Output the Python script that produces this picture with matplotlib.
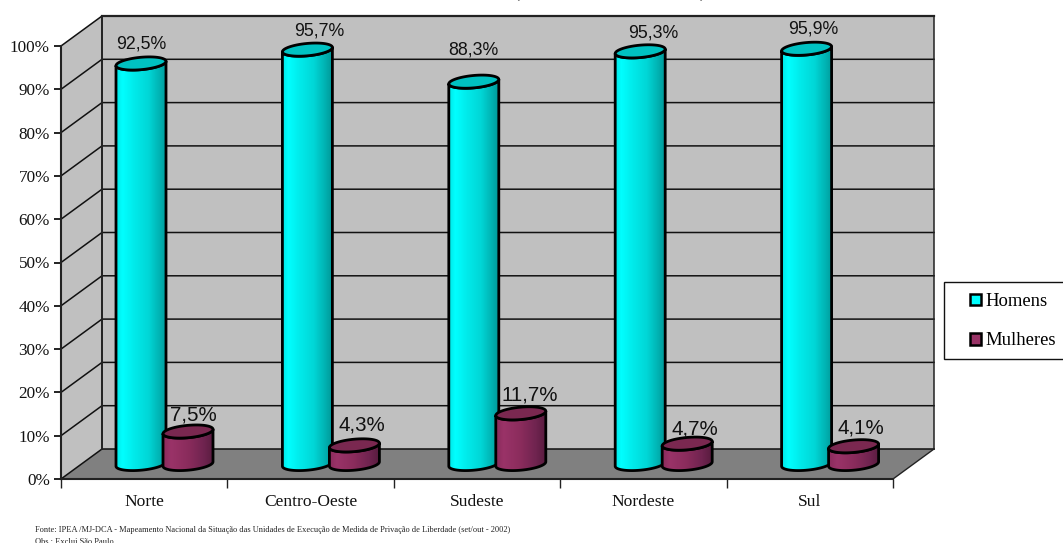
#!/usr/bin/env python3

import numpy as np
import matplotlib
matplotlib.use('Agg')
import matplotlib.pyplot as plt
from matplotlib.colors import LinearSegmentedColormap
from matplotlib.patches import Patch, Polygon, Rectangle
from matplotlib.ticker import FuncFormatter

regions = ['Norte', 'Centro-Oeste', 'Sudeste', 'Nordeste', 'Sul']
homens = [92.5, 95.7, 88.3, 95.3, 95.9]
mulheres = [7.5, 4.3, 11.7, 4.7, 4.1]
y_ticks = [0, 10, 20, 30, 40, 50, 60, 70, 80, 90, 100]
footnote = 'Fonte: IPEA /MJ-DCA - Mapeamento Nacional da Situação das Unidades de Execução de Medida de Privação de Liberdade (set/out - 2002)'
footnote2 = 'Obs : Exclui São Paulo'

W, H = 1063, 543
LEFT, RIGHT, BOTTOM, TOP = 61, 893, 479, 46
DEPTH_X, DEPTH_Y = 41, 30

plt.rcParams['font.family'] = ['Liberation Serif', 'DejaVu Serif']

fig = plt.figure(figsize=(W / 100, H / 100), dpi=100)
ax = fig.add_axes([LEFT / W, 1 - BOTTOM / H, (RIGHT - LEFT) / W, (BOTTOM - TOP) / H])

# pixels to data units, the 3d look is all done with offsets
px = len(regions) / (RIGHT - LEFT)
py = 100 / (BOTTOM - TOP)
dx, dy = DEPTH_X * px, DEPTH_Y * py
n = len(regions)

# walls and floor
ax.add_patch(Polygon([(dx, dy), (n + dx, dy), (n + dx, 100 + dy), (dx, 100 + dy)], fc='#c0c0c0', ec='none', clip_on=False, zorder=1))
ax.add_patch(Polygon([(0, 0), (dx, dy), (dx, 100 + dy), (0, 100)], fc='#c0c0c0', ec='none', clip_on=False, zorder=1))
ax.add_patch(Polygon([(0, 0), (n, 0), (n + dx, dy), (dx, dy)], fc='#808080', ec='none', clip_on=False, zorder=1))

for t in y_ticks:
    ax.plot([0, dx, n + dx], [t, t + dy, t + dy], color='#111111', lw=1.1, clip_on=False, zorder=2, solid_joinstyle='miter')
ax.plot([dx, dx], [dy, 100 + dy], color='#222222', lw=1.4, clip_on=False, zorder=2)
ax.plot([n + dx, n + dx], [dy, 100 + dy], color='#222222', lw=1.1, clip_on=False, zorder=2)
ax.plot([dx, n + dx], [100 + dy, 100 + dy], color='#222222', lw=1.6, clip_on=False, zorder=2)
ax.plot([n, n + dx], [0, dy], color='#222222', lw=1.0, clip_on=False, zorder=2)

cyan = LinearSegmentedColormap.from_list('c', [(0, '#00e8e8'), (0.12, '#00ffff'), (0.35, '#00ebeb'), (0.65, '#00d6d6'), (0.88, '#00b0b0'), (1, '#009a9a')])
wine = LinearSegmentedColormap.from_list('w', [(0, '#8a2c5c'), (0.15, '#9a3368'), (0.5, '#8a2c5c'), (0.8, '#702450'), (1, '#591c3f')])
grad = np.linspace(0, 1, 48).reshape(1, -1)

BASE = 15 * py
RX, RY, TILT = 25 * px, 6.2 * py, 2.2 * py


def rim(cx, cy, t):
    return np.column_stack([cx + RX * np.cos(t), cy + RY * np.sin(t) + TILT * np.cos(t)])


def cylinder(cx, value, cmap, top_color, z):
    top = BASE + value
    # t runs along the front half of the ellipse
    lower = rim(cx, BASE, np.linspace(np.pi, 2 * np.pi, 40))
    upper = rim(cx, top, np.linspace(2 * np.pi, np.pi, 40))
    body = Polygon(np.vstack([lower, upper]), closed=True, fc='none', ec='black', lw=2.0, clip_on=False, zorder=z + 0.2, joinstyle='round')
    ax.add_patch(body)
    im = ax.imshow(grad, extent=[cx - RX, cx + RX, 0, 100 + dy], cmap=cmap, aspect='auto', zorder=z, clip_on=True)
    im.set_clip_path(Polygon(np.vstack([lower, upper]), closed=True, transform=ax.transData))
    ax.add_patch(Polygon(rim(cx, top, np.linspace(0, 2 * np.pi, 60)), closed=True, fc=top_color, ec='black', lw=2.0, clip_on=False, zorder=z + 0.3))


fmt = lambda v: f'{v:.1f}%'.replace('.', ',')
# label offsets from the top of each cylinder, in pixels
off_h = [(0, 19), (12, 19), (0, 32), (13, 18), (7, 20)]
off_m = [(5, 17), (7, 20), (9, 18), (8, 15), (7, 18)]

for i in range(n):
    cx_h = i + 80 * px
    cx_m = i + 127 * px
    cylinder(cx_h, homens[i], cyan, '#00c2c2', 3)
    cylinder(cx_m, mulheres[i], wine, '#7a2850', 4)
    ax.text(cx_h + off_h[i][0] * px, BASE + homens[i] + off_h[i][1] * py, fmt(homens[i]), ha='center', va='center', family=['Liberation Sans'], fontsize=12.8, color='#111111', zorder=6, clip_on=False)
    ax.text(cx_m + off_m[i][0] * px, BASE + mulheres[i] + off_m[i][1] * py, fmt(mulheres[i]), ha='center', va='center', family=['Liberation Sans'], fontsize=14.8, color='#111111', zorder=6, clip_on=False)

ax.set_xlim(0, n)
ax.set_ylim(0, 100)
ax.patch.set_visible(False)
for s in ['top', 'right']:
    ax.spines[s].set_visible(False)
for s in ['left', 'bottom']:
    ax.spines[s].set_color('#222222')
    ax.spines[s].set_linewidth(1.5)
    ax.spines[s].set_zorder(7)

ax.set_yticks(y_ticks)
ax.yaxis.set_major_formatter(FuncFormatter(lambda v, p: f'{v:.0f}%'))
ax.tick_params(axis='y', length=5, width=1.4, color='#222222', labelsize=12.3, pad=3, labelcolor='#111111')
ax.set_xticks(range(n + 1))
ax.set_xticklabels([])
ax.set_xticks(np.arange(n) + 0.5, regions, minor=True)
ax.tick_params(axis='x', which='major', length=6.5, width=1.0, color='#222222')
ax.tick_params(axis='x', which='minor', length=0, pad=11, labelsize=12.6, labelcolor='#111111')

# the title is cut by the top of the picture, only the brackets reach in
fig.text(516 / W, 1 + 8 / H, '(', ha='center', va='center', fontsize=13, color='#111111')
fig.text(702 / W, 1 + 8 / H, ')', ha='center', va='center', fontsize=13, color='#111111')

fig.text(35 / W, 1 - 530 / H, footnote, ha='left', va='center', fontsize=6.0, color='#222222')
fig.text(35 / W, 1 - 542 / H, footnote2, ha='left', va='center', fontsize=6.0, color='#222222')

# legend box runs off the right edge, so it is drawn apart from the entries
fig.add_artist(Rectangle((944 / W, 1 - 359 / H), 125 / W, 77 / H, transform=fig.transFigure, fc='white', ec='#111111', lw=1.0))
handles = [Patch(fc='#00ffff', ec='black', lw=1.8, label='Homens'), Patch(fc='#993366', ec='black', lw=1.8, label='Mulheres')]
leg = fig.legend(handles=handles, loc='upper left', bbox_to_anchor=(970 / W, 1 - 293 / H), fontsize=13.4, frameon=False,
                 handlelength=0.6, handleheight=0.6, handletextpad=0.25, labelspacing=1.2, borderpad=0, borderaxespad=0)

fig.savefig('out.png', dpi=100)
